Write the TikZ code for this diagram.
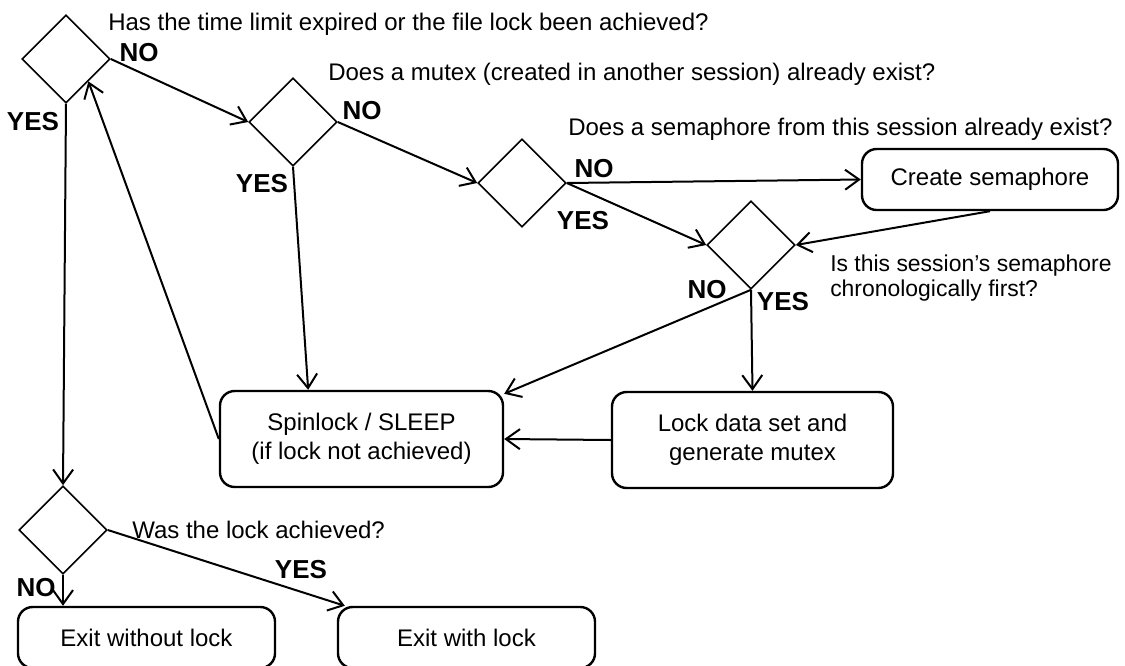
\documentclass[tikz,border=0pt]{standalone}
\usepackage{fontspec}
\setmainfont{Liberation Sans}
\usetikzlibrary{positioning,arrows.meta,shapes.geometric}

\begin{document}
\begin{tikzpicture}[x=.75pt,y=-.75pt,
 d/.style={diamond,draw,line width=1.2pt,minimum width=66pt,minimum height=66pt,inner sep=0pt},
 b/.style={rounded corners=11pt,draw,line width=1.8pt,align=center,font=\fontsize{18}{21.6}\selectfont},
 q/.style={inner sep=0pt,align=left,font=\fontsize{18}{18}\selectfont},
 l/.style={inner sep=0pt,font=\fontsize{19.5}{19.5}\selectfont\bfseries},
 a/.style={-{Straight Barb[length=10.5pt,width=15pt]},line width=1.5pt}]
\useasboundingbox (0,0) rectangle (1125,665);
\node[d] (q1) at (66,59) {};
\node[d] (q2) at (293,122) {};
\node[d] (q3) at (522,183) {};
\node[d] (q4) at (751,245) {};
\node[d] (q5) at (63,530) {};
\node[b,minimum width=192pt,minimum height=45.75pt] (cs) at (990,179.5) {Create semaphore};
\node[b,minimum width=212.25pt,minimum height=72pt] (sp) at (361.5,439) {Spinlock / SLEEP\\(if lock not achieved)};
\node[b,minimum width=210.75pt,minimum height=72pt] (lk) at (752.5,440) {Lock data set and\\generate mutex};
\node[b,minimum width=192.75pt,minimum height=45.75pt] (ex0) at (146.5,637.5) {Exit without lock};
\node[b,minimum width=192.75pt,minimum height=45.75pt] (ex1) at (466.5,637.5) {Exit with lock};
% questions
\node[q,anchor=base west] (t1) at (108,30) {Has the time limit expired or the file lock been achieved?};
\node[q,anchor=base west] (t2) at (328,80) {Does a mutex (created in another session) already exist?};
\node[q,anchor=base west] (t3) at (568,135) {Does a semaphore from this session already exist?};
\node[q,anchor=west,font=\fontsize{17.2}{18.5}\selectfont] (t4) at (830,278) {Is this session’s semaphore\\chronologically first?};
\node[q,anchor=base west] (t5) at (132,538) {Was the lock achieved?};
% answers
\node[l] (n1) at (139,53) {NO};   \node[l] (y1) at (33,122) {YES};
\node[l] (n2) at (362,111) {NO};  \node[l] (y2) at (262,184) {YES};
\node[l] (n3) at (594,169) {NO};  \node[l] (y3) at (583,221) {YES};
\node[l] (n4) at (707,290) {NO};  \node[l] (y4) at (783,302) {YES};
\node[l] (n5) at (36,588) {NO};   \node[l] (y5) at (301,570) {YES};
\draw[a] (q1.east)--(q2.west);\draw[a] (q2.east)--(q3.west);
\draw[a] (q3.east)--(cs.west);\draw[a] (q3.east)--(q4.west);
\draw[a] (cs.south)--(q4.east);
\draw[a] (q4.south)--(lk.north);\draw[a] (q4.south)--([yshift=-3pt]sp.north east);
\draw[a] (lk.west)--(sp.east);
\draw[a] (q2.south)--([xshift=-40pt]sp.north);
\draw[a] (sp.west)--(q1.south east);
\draw[a] (q1.south)--(q5.north);
\draw[a] (q5.south)--(q5.south |- ex0.north);
\draw[a] (q5.east)--([xshift=6pt]ex1.north west);
\end{tikzpicture}
\end{document}
